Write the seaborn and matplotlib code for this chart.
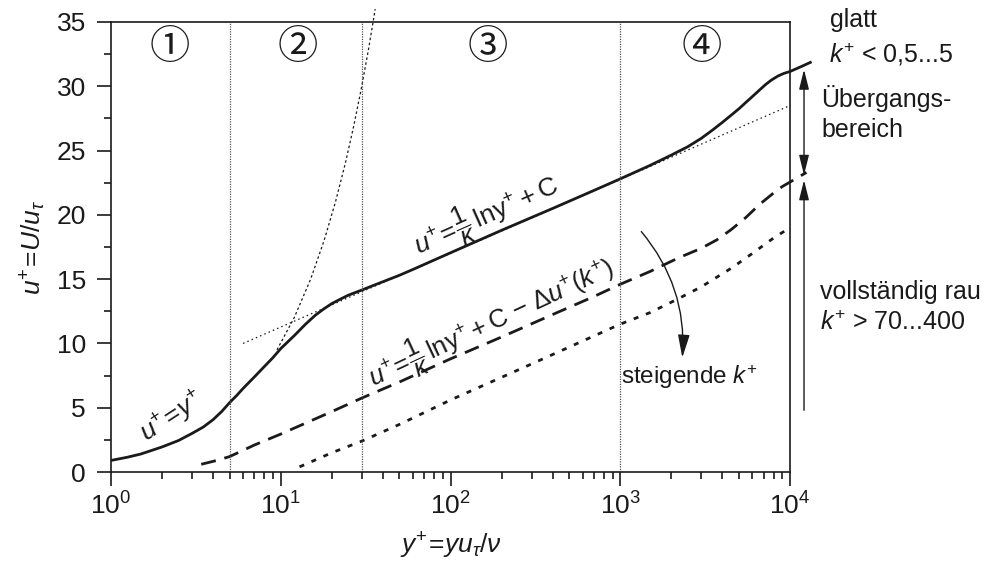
import numpy as np
import pandas as pd
import matplotlib
matplotlib.use("Agg")
import matplotlib.pyplot as plt
import seaborn as sns
from matplotlib.ticker import MultipleLocator, LogLocator, NullFormatter

# ---------------- data ----------------
smooth_y = [1, 1.25, 1.5, 2, 2.5, 3, 3.5, 4, 4.5, 5, 5.5, 6, 7, 8, 9, 10, 12, 14, 16,
            18, 20, 22.5, 25, 30, 35, 40, 50, 60, 100, 200, 400, 700, 1000, 1500,
            2000, 2500, 3000, 3500, 4000, 4500, 5000, 5500, 6000, 6600, 7200, 7800,
            8500, 9200, 10000, 11500, 13400]
smooth_u = [0.9, 1.15, 1.4, 1.95, 2.45, 3.0, 3.5, 4.08, 4.72, 5.4, 5.95, 6.5, 7.4,
            8.2, 8.9, 9.6, 10.6, 11.5, 12.2, 12.7, 13.1, 13.45, 13.75, 14.15, 14.5,
            14.8, 15.3, 15.75, 17.05, 18.8, 20.5, 21.9, 22.8, 23.85, 24.65, 25.3,
            25.95, 26.6, 27.2, 27.75, 28.25, 28.75, 29.2, 29.7, 30.15, 30.5, 30.8,
            31.0, 31.15, 31.5, 31.9]

trans_y = [3.4, 4.2, 5, 7, 10, 20, 30, 50, 100, 200, 400, 700, 1000, 1500, 2200,
           3000, 3700, 4500, 5500, 6600, 8000, 9000, 10000, 12500]
trans_u = [0.6, 0.9, 1.2, 2.1, 2.95, 4.7, 5.75, 7.0, 8.8, 10.5, 12.25, 13.65, 14.6,
           15.6, 16.65, 17.4, 18.05, 18.85, 19.8, 20.8, 21.7, 22.2, 22.55, 23.3]

rough_y = [12.9, 20, 30, 50, 100, 300, 1000, 1500, 2140, 3000, 4570, 6000, 8000, 10000]
rough_u = [0.4, 1.5, 2.4, 3.7, 5.6, 8.4, 11.5, 12.4, 13.4, 14.4, 15.9, 17.0, 18.2, 19.0]

loglaw_y = [6, 10000]
loglaw_u = [10.0, 28.5]

visc_y = [9.5, 12, 15, 18, 21, 24, 27, 30, 33, 36]
visc_u = [9.5, 12, 15, 18, 21, 24, 27, 30, 33, 36]

region_bounds = [5, 30, 1000]
region_labels = ["\u2460", "\u2461", "\u2462", "\u2463"]
region_label_x = [2.22, 12.6, 166, 3000]

# ---------------- style ----------------
sns.set_theme(style="ticks")
plt.rcParams["font.family"] = ["Liberation Sans", "DejaVu Sans", "Noto Sans CJK SC"]
plt.rcParams["mathtext.fontset"] = "custom"
plt.rcParams["mathtext.rm"] = "Liberation Sans"
plt.rcParams["mathtext.it"] = "Liberation Sans:italic"
plt.rcParams["mathtext.bf"] = "Liberation Sans:bold"
plt.rcParams["mathtext.sf"] = "Liberation Sans"
plt.rcParams["axes.linewidth"] = 1.2

fig = plt.figure(figsize=(9.92, 5.65), dpi=100)
ax = fig.add_axes([0.1119, 0.1646, 0.6845, 0.7965])
ax.set_xscale("log")

k = "#1a1a1a"

def line(xs, ys, **kw):
    df = pd.DataFrame({"x": xs, "y": ys})
    sns.lineplot(data=df, x="x", y="y", ax=ax, sort=False, estimator=None,
                 color=k, **kw)

line(smooth_y, smooth_u, lw=2.0, clip_on=False, solid_capstyle="butt")
line(trans_y, trans_u, lw=2.0, linestyle=(0, (5.4, 3.2)), clip_on=False)
line(rough_y, rough_u, lw=2.0, linestyle=(0, (1.8, 2.9)))
line(loglaw_y, loglaw_u, lw=0.9, linestyle=(0, (1.2, 2.5)))
line(visc_y, visc_u, lw=0.9, linestyle=(0, (2.0, 2.0)), clip_on=False)

for xb in region_bounds:
    ax.axvline(xb, color="#555555", lw=0.9, linestyle=(0, (1, 1)))

for xl, lab in zip(region_label_x, region_labels):
    ax.text(xl, 33.0, lab, ha="center", va="center", fontsize=29, color=k,
            family=["Noto Sans CJK SC", "DejaVu Sans"])

ax.set_xlim(1, 1e4)
ax.set_ylim(0, 35)
ax.yaxis.set_major_locator(MultipleLocator(5))
ax.yaxis.set_minor_locator(MultipleLocator(2.5))
ax.xaxis.set_major_locator(LogLocator(base=10, numticks=10))
ax.xaxis.set_minor_locator(LogLocator(base=10, subs=np.arange(2, 10), numticks=20))
ax.xaxis.set_minor_formatter(NullFormatter())
ax.tick_params(which="major", length=10, width=1.2, direction="out", labelsize=19,
               color=k, labelcolor=k)
ax.tick_params(which="minor", length=5, width=1.2, direction="out", color=k)
ax.tick_params(axis="y", which="major", pad=8)
ax.tick_params(axis="x", which="major", pad=5)
for s in ax.spines.values():
    s.set_color(k)
    s.set_linewidth(1.2)

ax.set_xlabel(r"$y^{+}\!=\!yu_{\tau}/\nu$", fontsize=19, color=k, labelpad=8)
ax.set_ylabel(r"$u^{+}\!=\!U/u_{\tau}$", fontsize=19, color=k, labelpad=6)

# curve labels
ax.text(2.28, 4.3, r"$u^{+}\!=\!y^{+}$", fontsize=19, rotation=33, ha="center",
        va="center", color=k, rotation_mode="anchor")
ax.text(162, 20.0, r"$u^{+}\!=\!\dfrac{1}{\kappa}\,\mathrm{lny}^{+}+\mathrm{C}$",
        fontsize=19, rotation=24, ha="center", va="center", color=k,
        rotation_mode="anchor")
ax.text(174, 11.6,
        r"$u^{+}\!=\!\dfrac{1}{\kappa}\,\mathrm{lny}^{+}+\mathrm{C}\ \mathrm{-}\ \Delta u^{+}(k^{+})$",
        fontsize=18.5, rotation=25, ha="center", va="center", color=k,
        rotation_mode="anchor")
ax.text(2560, 7.4, r"steigende $k^{+}$", fontsize=17.5, ha="center", va="center", color=k)

ax.annotate("", xy=(2320, 8.9), xytext=(1330, 18.7),
            arrowprops=dict(arrowstyle="-|>,head_length=0.7,head_width=0.18",
                            connectionstyle="arc3,rad=-0.2", color=k, lw=1.0,
                            shrinkA=0, shrinkB=0, mutation_scale=20))

# right-side range annotations
xr = 12090
ax.annotate("", xy=(xr, 31.3), xytext=(xr, 23.1), annotation_clip=False,
            arrowprops=dict(arrowstyle="<|-|>,head_length=0.6,head_width=0.15",
                            color=k, lw=1.0, shrinkA=0, shrinkB=0, mutation_scale=20))
ax.annotate("", xy=(xr, 22.7), xytext=(xr, 4.8), annotation_clip=False,
            arrowprops=dict(arrowstyle="-|>,head_length=0.6,head_width=0.15",
                            color=k, lw=1.0, shrinkA=0, shrinkB=0, mutation_scale=20))

fs = 18
fig.text(830 / 992, 1 - 27 / 565, "glatt", fontsize=fs, color=k, va="baseline")
fig.text(829 / 992, 1 - 62 / 565, r"$k^{+}$ < 0,5...5", fontsize=fs, color=k, va="baseline")
fig.text(821 / 992, 1 - 107 / 565, "Übergangs-", fontsize=fs, color=k, va="baseline")
fig.text(821 / 992, 1 - 137 / 565, "bereich", fontsize=fs, color=k, va="baseline")
fig.text(820 / 992, 1 - 299 / 565, "vollständig rau", fontsize=fs, color=k, va="baseline")
fig.text(820 / 992, 1 - 330 / 565, r"$k^{+}$ > 70...400", fontsize=fs, color=k, va="baseline")

fig.savefig("out.png", dpi=100)
